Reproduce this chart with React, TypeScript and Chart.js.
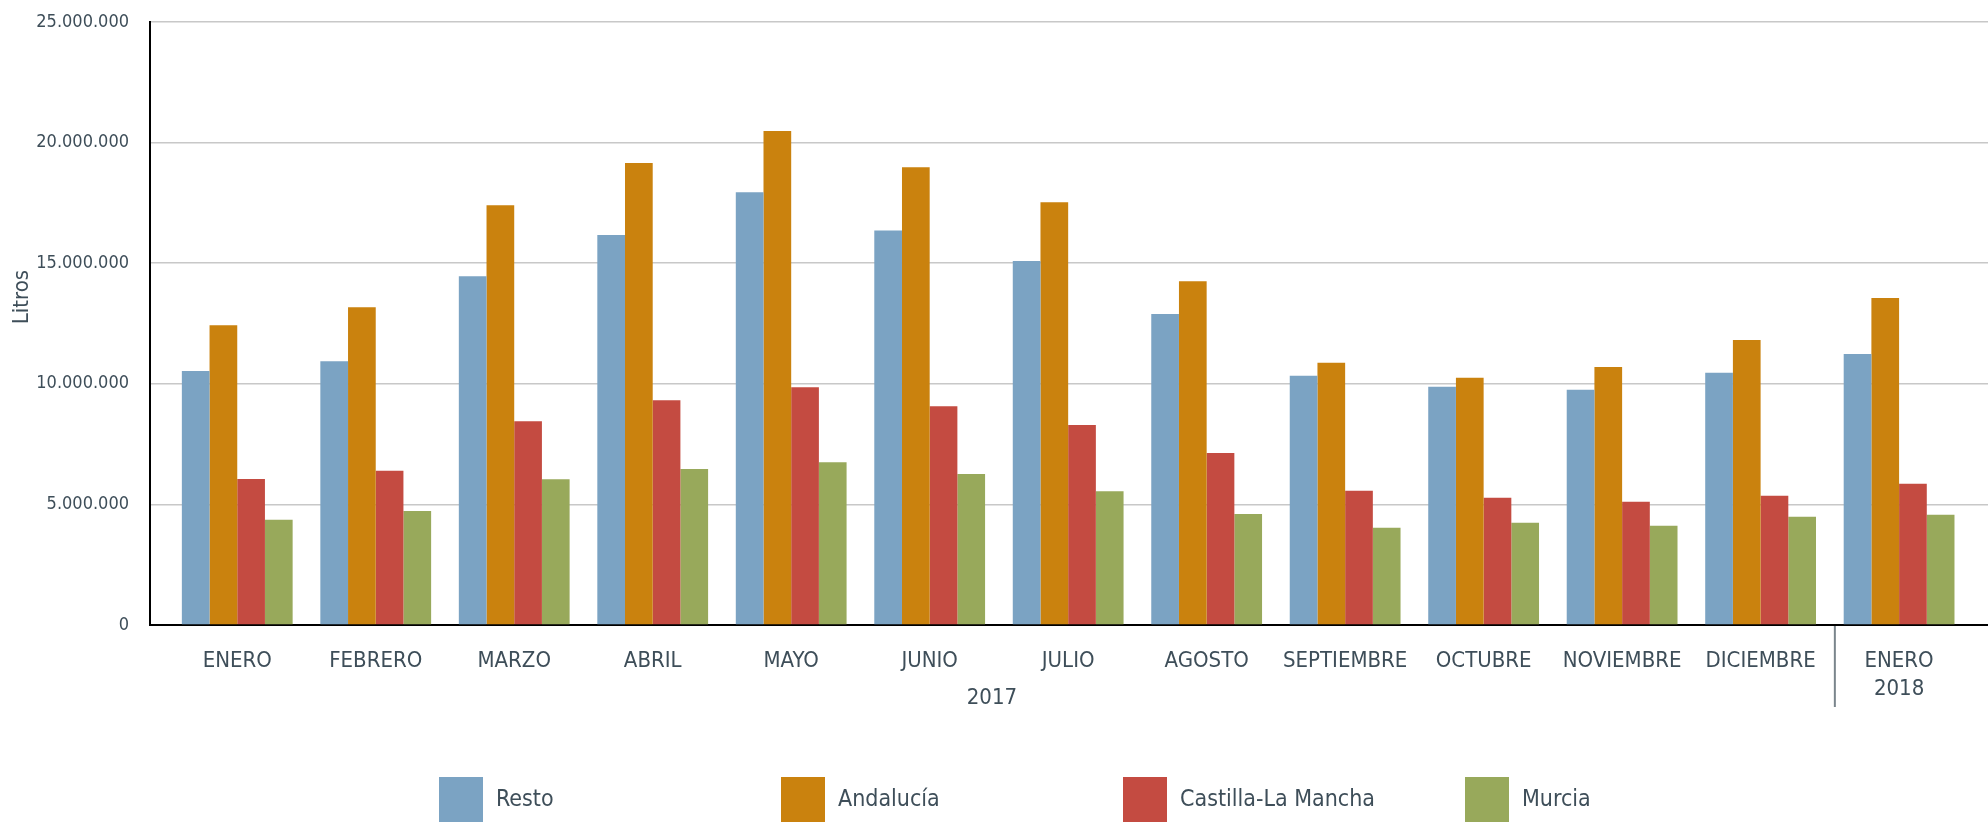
import React, { useEffect, useRef } from 'react';
import { Chart, registerables } from 'chart.js';

Chart.register(...registerables);

// ---- data ----
const tickLabels: (string | string[])[] = [
  'ENERO', 'FEBRERO', 'MARZO', 'ABRIL', 'MAYO', 'JUNIO', 'JULIO', 'AGOSTO',
  'SEPTIEMBRE', 'OCTUBRE', 'NOVIEMBRE', 'DICIEMBRE', ['ENERO', '2018'],
];
const groupLabel2017 = '2017';
const yTitle = 'Litros';

const resto = [10530000, 10940000, 14460000, 16170000, 17940000, 16360000, 15090000, 12890000, 10330000, 9880000, 9750000, 10460000, 11240000];
const andalucia = [12430000, 13170000, 17400000, 19150000, 20480000, 18980000, 17530000, 14250000, 10870000, 10250000, 10700000, 11820000, 13560000];
const castilla = [6050000, 6390000, 8450000, 9320000, 9860000, 9070000, 8290000, 7130000, 5570000, 5280000, 5110000, 5360000, 5860000];
const murcia = [4360000, 4730000, 6040000, 6470000, 6750000, 6260000, 5550000, 4600000, 4030000, 4240000, 4120000, 4490000, 4570000];

const seriesNames = ['Resto', 'Andalucía', 'Castilla-La Mancha', 'Murcia'];
const seriesValues = [resto, andalucia, castilla, murcia];
const seriesColors = ['#7ba3c3', '#ca820e', '#c44b41', '#98a95b'];

const yTicks = [0, 5000000, 10000000, 15000000, 20000000, 25000000];

// ---- style ----
const FONT = '"Liberation Sans Narrow", "Arial Narrow", "DejaVu Sans Condensed", sans-serif';
const TEXT = '#3e4e59';

const fmt = (v: number) => String(Math.round(v)).replace(/\B(?=(\d{3})+(?!\d))/g, '.');

const extras = {
  id: 'extras',
  afterDraw(chart: any) {
    const { ctx, chartArea, scales } = chart;
    const x = scales.x;
    ctx.save();
    // y title
    ctx.fillStyle = TEXT;
    ctx.font = `22px ${FONT}`;
    ctx.textAlign = 'center';
    ctx.textBaseline = 'middle';
    ctx.save();
    ctx.translate(22, 297);
    ctx.rotate(-Math.PI / 2);
    ctx.fillText(yTitle, 0, 0);
    ctx.restore();
    // 2017 group label
    ctx.font = `22px ${FONT}`;
    ctx.fillText(groupLabel2017, x.getPixelForValue(5.5) - 7, 698);
    // separator
    const sx = x.getPixelForValue(11.5) + 5;
    ctx.strokeStyle = '#7a858c';
    ctx.lineWidth = 2;
    ctx.beginPath();
    ctx.moveTo(sx, chartArea.bottom + 1);
    ctx.lineTo(sx, 707);
    ctx.stroke();
    // legend
    const startX = 439;
    const step = 342;
    ctx.font = `23px ${FONT}`;
    ctx.textAlign = 'left';
    chart.data.datasets.forEach((ds: any, i: number) => {
      const bx = startX + i * step;
      ctx.fillStyle = ds.backgroundColor;
      ctx.fillRect(bx, 777, 44, 45);
      ctx.fillStyle = TEXT;
      ctx.fillText(ds.label, bx + 57, 800);
    });
    ctx.restore();
  },
};

export default function App() {
  const ref = useRef<HTMLCanvasElement | null>(null);
  useEffect(() => {
    if (!ref.current) return;
    const chart = new Chart(ref.current, {
      type: 'bar',
      data: {
        datasets: seriesNames.map((name, s) => ({
          label: name,
          data: seriesValues[s].map((v, i) => ({ x: i, y: v })),
          backgroundColor: seriesColors[s],
          borderWidth: 0,
          categoryPercentage: 0.8,
          barPercentage: 1.0,
        })),
      },
      options: {
        responsive: false,
        animation: false,
        layout: { padding: { top: 22, left: 0, right: 0, bottom: 0 } },
        plugins: {
          legend: { display: false },
          tooltip: { enabled: false },
        },
        scales: {
          x: {
            type: 'linear',
            offset: false,
            min: -0.63,
            max: 12.642,
            grid: { display: false, drawTicks: false },
            border: { display: true, color: '#000000', width: 2 },
            afterBuildTicks: (axis: any) => {
              axis.ticks = tickLabels.map((_, i) => ({ value: i }));
            },
            afterFit: (axis: any) => {
              axis.height = 197;
              axis.paddingLeft = 0;
              axis.paddingRight = 0;
            },
            ticks: {
              autoSkip: false,
              maxRotation: 0,
              minRotation: 0,
              padding: 23,
              color: TEXT,
              font: { family: FONT, size: 22, lineHeight: 1.25 },
              callback: (v: any) => tickLabels[Math.round(Number(v))] ?? '',
            },
          },
          y: {
            min: 0,
            max: 25000000,
            afterBuildTicks: (axis: any) => {
              axis.ticks = yTicks.map((v) => ({ value: v }));
            },
            afterFit: (axis: any) => {
              axis.width = 150;
              axis.paddingTop = 0;
              axis.paddingBottom = 0;
            },
            grid: { color: '#c8c8c8', lineWidth: 1.5, drawTicks: false },
            border: { display: true, color: '#000000', width: 2 },
            ticks: {
              padding: 21,
              color: TEXT,
              font: { family: FONT, size: 18 },
              callback: (v: any) => fmt(Number(v)),
            },
          },
        },
      },
      plugins: [extras],
    } as any);
    return () => chart.destroy();
  }, []);
  return (
    <div style={{ position: 'absolute', left: 0, top: 0, width: 1988, height: 822, background: '#fff' }}>
      <canvas ref={ref} width={1988} height={822} style={{ display: 'block' }} />
    </div>
  );
}
